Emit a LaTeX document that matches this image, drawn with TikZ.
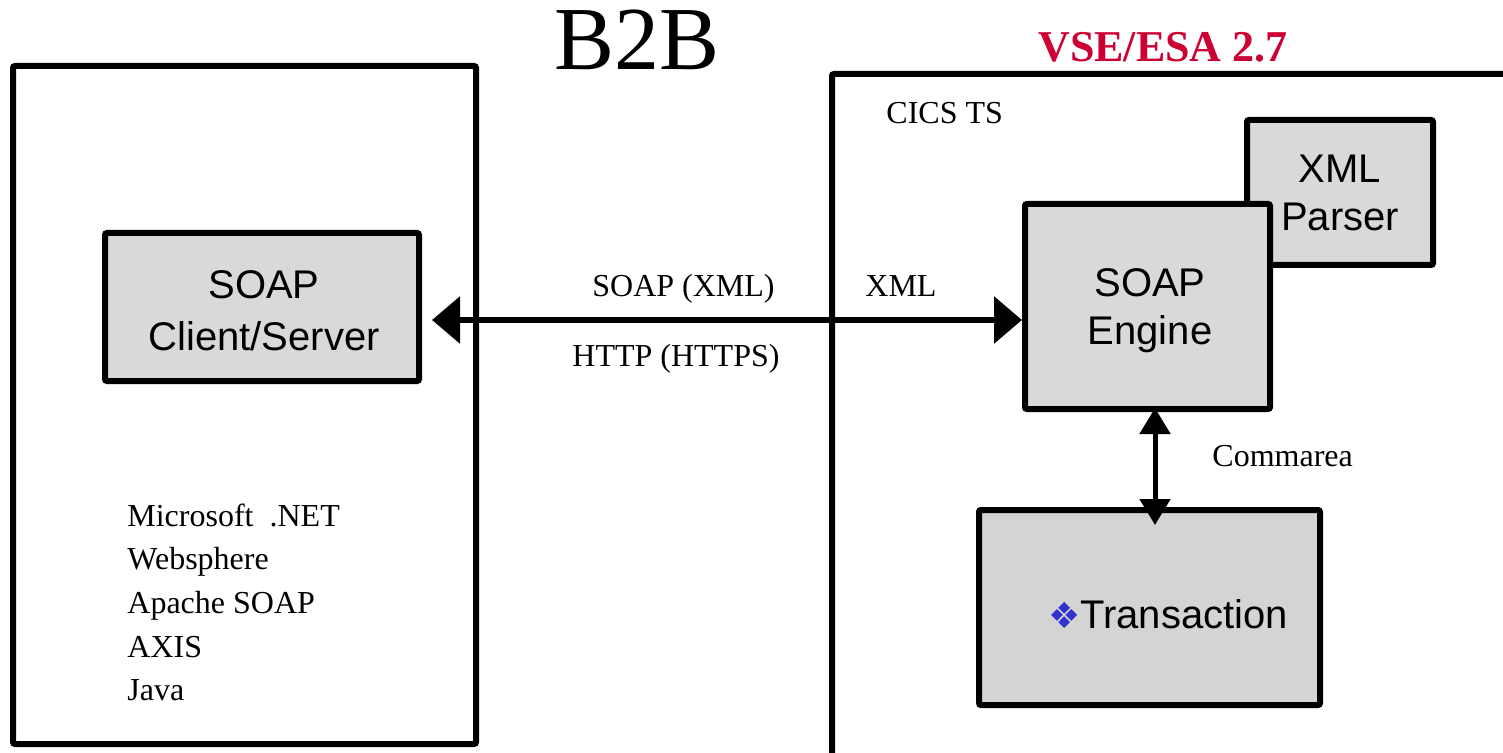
\documentclass[tikz,border=0pt]{standalone}
\usepackage{fontspec}
\setmainfont{Liberation Serif}
\setsansfont{Liberation Sans}
\newfontfamily\symfont{DejaVu Sans}
\usetikzlibrary{arrows.meta}
\definecolor{boxgray}{RGB}{217,217,217}
\definecolor{transgray}{RGB}{212,212,212}
\definecolor{vsered}{RGB}{204,0,51}
\definecolor{diamondblue}{RGB}{51,51,204}
\begin{document}
\begin{tikzpicture}[x=0.5pt,y=-0.5pt,
  frame/.style={draw,line width=3pt,rounded corners=1pt,inner sep=0pt},
  box/.style={draw,line width=3pt,fill=boxgray,rounded corners=1pt,font=\sffamily\fontsize{20}{24}\selectfont,align=center,inner sep=0pt},
  boxtext/.style={font=\sffamily\fontsize{20}{24}\selectfont,align=center,inner sep=0pt},
  lbl/.style={font=\fontsize{16}{19}\selectfont,anchor=base west,inner sep=0pt},
  conn/.style={line width=3pt,{Triangle[length=14pt,width=23pt]}-{Triangle[length=14pt,width=23pt]}},
  vconn/.style={line width=2.5pt,{Triangle[length=13pt,width=15pt]}-{Triangle[length=13pt,width=15pt]}}]
\useasboundingbox (0,0) rectangle (1503,753);
\clip (0,0) rectangle (1503,753);
% frames
\node[frame,minimum width=231.5pt,minimum height=339pt] (b2bframe) at (244.5,405) {};
\node[frame,minimum width=354pt,minimum height=358pt] (vseframe) at (1186,432) {};
% boxes
\node[box,minimum width=157pt,minimum height=74pt,font=\sffamily\fontsize{20}{26}\selectfont] (client) at (262,307) {};
\node[boxtext,font=\sffamily\fontsize{20}{26}\selectfont] (clienttext) at (264,311) {SOAP\\Client/Server};
\node[box,minimum width=93pt,minimum height=72.5pt] (parser) at (1340,192.5) {XML\\Parser};
\node[box,minimum width=122.5pt,minimum height=102.5pt] (engine) at (1147.5,306.5) {};
\node[boxtext] (enginetext) at (1150,311) {SOAP\\Engine};
\node[box,fill=transgray,minimum width=170.5pt,minimum height=97.5pt] (trans) at (1149.5,607.5) {};
\node[boxtext] (transtext) at (1168,614) {{\symfont\fontsize{18}{20}\selectfont\color{diamondblue}❖}Transaction};
% titles
\node[font=\fontsize{45}{50}\selectfont,anchor=base,inner sep=0pt] (title) at (637,70) {B2B};
\node[font=\bfseries\fontsize{22}{26}\selectfont,text=vsered,anchor=base,inner sep=0pt] (vse) at (1163,62) {VSE/ESA 2.7};
% labels
\node[lbl] (cics) at (886,124) {CICS TS};
\node[lbl] (soapxml) at (592,297) {SOAP (XML)};
\node[lbl] (xml) at (865,297) {XML};
\node[lbl] (http) at (572,366) {HTTP (HTTPS)};
\node[lbl] (commarea) at (1212,466) {Commarea};
\node[lbl] (plat1) at (127,526) {Microsoft \ .NET};
\node[lbl] (plat2) at (127,569) {Websphere};
\node[lbl] (plat3) at (127,613) {Apache SOAP};
\node[lbl] (plat4) at (127,657) {AXIS};
\node[lbl] (plat5) at (127,700) {Java};
% connectors
\coordinate (harrow) at (0,320);
\coordinate (varrow) at (1155,0);
\draw[conn,shorten <=5pt] (client.east |- harrow) -- (engine.west |- harrow);
\draw[vconn,shorten <=-2pt,shorten >=-9pt] (engine.south -| varrow) -- (trans.north -| varrow);
\end{tikzpicture}
\end{document}
